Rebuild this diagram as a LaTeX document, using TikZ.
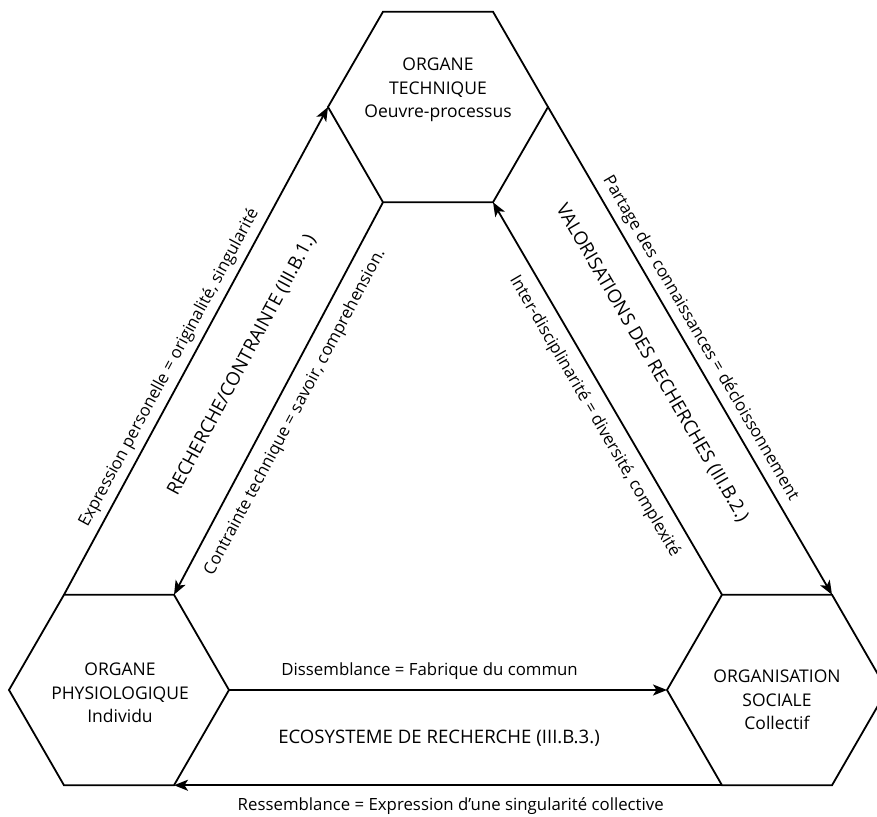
\documentclass[tikz,border=0pt]{standalone}
\usepackage{fontspec}
\setmainfont{Open Sans}
\usetikzlibrary{arrows.meta,calc}
\begin{document}
\begin{tikzpicture}[x=1pt,y=1pt,
  conn/.style={line width=1.8pt},
  hexline/.style={line width=1.8pt, line join=miter},
  tip/.style={-{Stealth[length=14pt,width=11pt,inset=3.5pt]}},
  rtip/.style={{Stealth[length=14pt,width=11pt,inset=3.5pt]}-},
  lab/.style={font=\fontsize{16.8}{20}\selectfont, inner sep=0pt},
  big/.style={font=\fontsize{18.6}{22}\selectfont, inner sep=0pt},
  hextext/.style={font=\fontsize{17.5}{23.5}\selectfont, align=center, inner sep=0pt}]
\useasboundingbox (0,0) rectangle (877,816);
\clip (0,0) rectangle (877,816);
\coordinate (T) at (438,709);
\coordinate (L) at (119,126);
\coordinate (G) at (777,126);
\foreach \c in {T,L,G}{
  \coordinate (\c-e) at ($(\c)+(110,0)$);
  \coordinate (\c-ne) at ($(\c)+(55,95.26)$);
  \coordinate (\c-nw) at ($(\c)+(-55,95.26)$);
  \coordinate (\c-w) at ($(\c)+(-110,0)$);
  \coordinate (\c-sw) at ($(\c)+(-55,-95.26)$);
  \coordinate (\c-se) at ($(\c)+(55,-95.26)$);
  \draw[hexline] (\c-e) -- (\c-ne) -- (\c-nw) -- (\c-w) -- (\c-sw) -- (\c-se) -- cycle;
}
\node[hextext] (tech) at (438,726) {ORGANE\\TECHNIQUE\\Oeuvre-processus};
\node[hextext] (phys) at (120,123) {ORGANE\\PHYSIOLOGIQUE\\Individu};
\node[hextext] (soc) at (777,116) {ORGANISATION\\SOCIALE\\Collectif};

\draw[conn,tip] (L-nw) -- node[lab,sloped,above=6pt,pos=0.45] {Expression personelle = originalité, singularité} (T-w);
\draw[conn,rtip] (L-ne) -- node[lab,sloped,below=12pt,pos=0.49] {Contrainte technique = savoir, comprehension.} (T-sw);
\draw[conn,rtip] (T-se) -- node[lab,sloped,below=11pt,pos=0.52] {Inter-disciplinarité = diversité, complexité} (G-nw);
\draw[conn,tip] (T-e) -- node[lab,sloped,above=6pt,pos=0.49] {Partage des connaissances = décloissonnement} (G-ne);
\draw[conn,tip] (L-e) -- node[lab,above=10pt,pos=0.458] {Dissemblance = Fabrique du commun} (G-w);
\draw[conn,tip] (G-sw) -- node[lab,below=11pt,pos=0.495] {Ressemblance = Expression d’une singularité collective} (L-se);

\node[big,rotate=61.8] (rc) at (242,451) {RECHERCHE/CONTRAINTE (III.B.1.)};
\node[big,rotate=-59.8] (vr) at (652,453) {VALORISATIONS DES RECHERCHES (III.B.2.)};
\node[big] (eco) at (439,78) {ECOSYSTEME DE RECHERCHE (III.B.3.)};
\end{tikzpicture}
\end{document}
